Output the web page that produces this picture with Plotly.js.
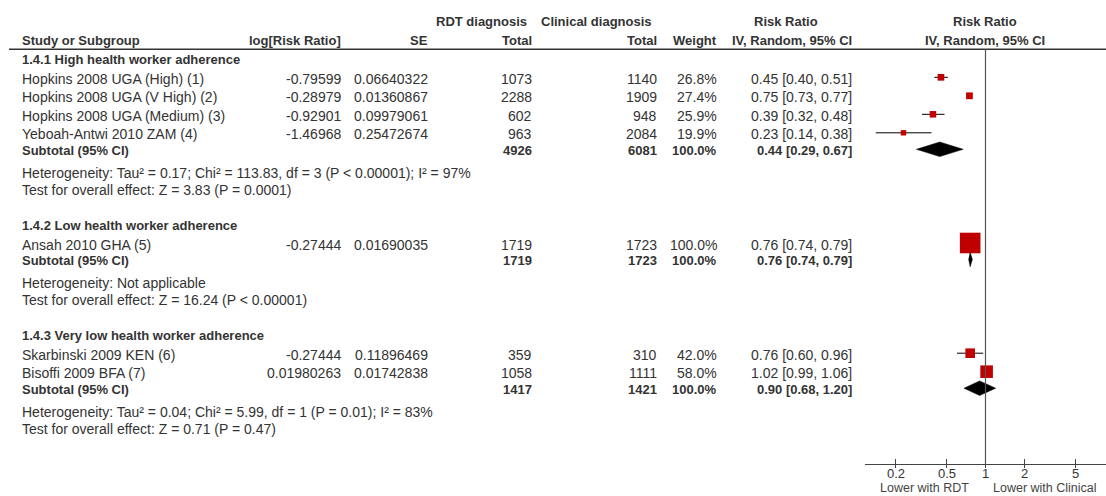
<!DOCTYPE html>
<html>
<head>
<meta charset="utf-8">
<script src="https://cdn.plot.ly/plotly-3.0.1.min.js"></script>
<style>
  html, body { margin: 0; padding: 0; background: #fff; }
  #forest { width: 1106px; height: 496px; }
</style>
</head>
<body>
<div id="forest"></div>
<script>
// ---- Study-level data ----
const groupTitles = [
  '1.4.1 High health worker adherence',
  '1.4.2 Low health worker adherence',
  '1.4.3 Very low health worker adherence'
];
const studyNames = [
  'Hopkins 2008 UGA (High) (1)',
  'Hopkins 2008 UGA (V High) (2)',
  'Hopkins 2008 UGA (Medium) (3)',
  'Yeboah-Antwi 2010 ZAM (4)',
  'Ansah 2010 GHA (5)',
  'Skarbinski 2009 KEN (6)',
  'Bisoffi 2009 BFA (7)'
];
const studyGroup = [0, 0, 0, 0, 1, 2, 2];
const logRR = [-0.79599, -0.28979, -0.92901, -1.46968, -0.27444, -0.27444, 0.01980263];
const stdErr = [0.06640322, 0.01360867, 0.09979061, 0.25472674, 0.01690035, 0.11896469, 0.01742838];
const rdtTotal = [1073, 2288, 602, 963, 1719, 359, 1058];
const clinTotal = [1140, 1909, 948, 2084, 1723, 310, 1111];
const weightPct = [26.8, 27.4, 25.9, 19.9, 100.0, 42.0, 58.0];
const riskRatio = [0.45, 0.75, 0.39, 0.23, 0.76, 0.76, 1.02];
const ciLow = [0.40, 0.73, 0.32, 0.14, 0.74, 0.60, 0.99];
const ciHigh = [0.51, 0.77, 0.48, 0.38, 0.79, 0.96, 1.06];

// ---- Subgroup totals ----
const subRdtTotal = [4926, 1719, 1417];
const subClinTotal = [6081, 1723, 1421];
const subWeightPct = [100.0, 100.0, 100.0];
const subRR = [0.44, 0.76, 0.90];
const subLow = [0.29, 0.74, 0.68];
const subHigh = [0.67, 0.79, 1.20];
const heterogeneity = [
  'Heterogeneity: Tau\u00b2 = 0.17; Chi\u00b2 = 113.83, df = 3 (P < 0.00001); I\u00b2 = 97%',
  'Heterogeneity: Not applicable',
  'Heterogeneity: Tau\u00b2 = 0.04; Chi\u00b2 = 5.99, df = 1 (P = 0.01); I\u00b2 = 83%'
];
const overallEffect = [
  'Test for overall effect: Z = 3.83 (P = 0.0001)',
  'Test for overall effect: Z = 16.24 (P < 0.00001)',
  'Test for overall effect: Z = 0.71 (P = 0.47)'
];

// ---- Axis ----
const tickVals = [0.2, 0.5, 1, 2, 5];
const tickText = ['0.2', '0.5', '1', '2', '5'];
const favoursLeft = 'Lower with RDT';
const favoursRight = 'Lower with Clinical';

// ---- Layout constants (pixels) ----
const W = 1106, H = 496;
const AXIS_Y = 464;            // baseline of the plot axis
const PLOT_LEFT = 865;         // left end of the plot axis
const LOG_SPAN = 0.9377;       // decades either side of RR = 1
const FONT = 'Liberation Sans, Arial, sans-serif';
const INK = '#333333';
const BOX_RED = '#c00000';

const COL = { name: 20.7, logrr: 341.7, se: 429.3, rdt: 533.3, clin: 658.3, weight: 717.7, ci: 853.3, plot: 984.5 };
const GAP = { headToStudy: 19.5, study: 18.5, studyToSub: 16.5, subToHet: 21.8, hetToTest: 17, testToHead: 35.4 };
const MARK_SHIFT = -1.5;       // marks sit slightly above the text centre line
const DIAMOND_HALF = 7.3;
const TICK_LABEL_Y = 473.8;
const FAVOURS_Y = 487.8;

const px = v => v / W;
const py = v => (H - v) / H;
const esc = s => String(s).replace(/&/g, '&amp;').replace(/</g, '&lt;').replace(/>/g, '&gt;');
const fmtCI = (m, l, h) => m.toFixed(2) + ' [' + l.toFixed(2) + ', ' + h.toFixed(2) + ']';

const annotations = [];
function txt(x, y, text, anchor, opts) {
  opts = opts || {};
  const bold = !!opts.bold;
  annotations.push({
    xref: opts.xref || 'paper', yref: 'paper',
    x: opts.xref ? x : px(x), y: py(y),
    text: bold ? '<b>' + esc(text) + '</b>' : esc(text),
    showarrow: false, xanchor: anchor, yanchor: 'middle',
    borderpad: 0,
    font: { family: FONT, size: opts.size || (bold ? 13 : 14), color: opts.color || INK }
  });
}

// Column headers
const H1 = 22, H2 = 40.7, RULE_Y = 49.3;
txt(435, H1, 'RDT diagnosis', 'left', { bold: true });
txt(540, H1, 'Clinical diagnosis', 'left', { bold: true });
txt(753, H1, 'Risk Ratio', 'left', { bold: true });
txt(COL.plot, H1, 'Risk Ratio', 'center', { bold: true });
txt(COL.name, H2, 'Study or Subgroup', 'left', { bold: true });
txt(COL.logrr, H2, 'log[Risk Ratio]', 'right', { bold: true });
txt(COL.se, H2, 'SE', 'right', { bold: true });
txt(COL.rdt, H2, 'Total', 'right', { bold: true });
txt(COL.clin, H2, 'Total', 'right', { bold: true });
txt(COL.weight, H2, 'Weight', 'right', { bold: true });
txt(COL.ci, H2, 'IV, Random, 95% CI', 'right', { bold: true });
txt(COL.plot, H2, 'IV, Random, 95% CI', 'center', { bold: true });

// Walk down the rows, placing text and collecting mark positions
const studyY = new Array(studyNames.length);
const subY = [];
let y = 59.3;
for (let g = 0; g < groupTitles.length; g++) {
  txt(COL.name, y, groupTitles[g], 'left', { bold: true });
  let first = true;
  for (let i = 0; i < studyNames.length; i++) {
    if (studyGroup[i] !== g) continue;
    y += first ? GAP.headToStudy : GAP.study;
    first = false;
    studyY[i] = y;
    txt(COL.name, y, studyNames[i], 'left');
    txt(COL.logrr, y, String(logRR[i]), 'right');
    txt(COL.se, y, String(stdErr[i]), 'right');
    txt(COL.rdt, y, String(rdtTotal[i]), 'right');
    txt(COL.clin, y, String(clinTotal[i]), 'right');
    txt(COL.weight, y, weightPct[i].toFixed(1) + '%', 'right');
    txt(COL.ci, y, fmtCI(riskRatio[i], ciLow[i], ciHigh[i]), 'right');
  }
  y += GAP.studyToSub;
  subY[g] = y;
  txt(COL.name, y, 'Subtotal (95% CI)', 'left', { bold: true });
  txt(COL.rdt, y, String(subRdtTotal[g]), 'right', { bold: true });
  txt(COL.clin, y, String(subClinTotal[g]), 'right', { bold: true });
  txt(COL.weight, y, subWeightPct[g].toFixed(1) + '%', 'right', { bold: true });
  txt(COL.ci, y, fmtCI(subRR[g], subLow[g], subHigh[g]), 'right', { bold: true });
  y += GAP.subToHet;
  txt(COL.name, y, heterogeneity[g], 'left');
  y += GAP.hetToTest;
  txt(COL.name, y, overallEffect[g], 'left');
  y += GAP.testToHead;
}

// Tick labels of the risk-ratio axis (annotation x on a log axis is log10 of the value)
tickVals.forEach((v, i) => {
  txt(Math.log10(v), TICK_LABEL_Y, tickText[i], 'center', { xref: 'x', size: 13, color: INK });
});

// Favours labels under the axis
txt(970, FAVOURS_Y, favoursLeft, 'right', { size: 12.5, color: '#444' });
txt(992.3, FAVOURS_Y, favoursRight, 'left', { size: 12.5, color: '#444' });

// ---- Traces ----
const traces = [];

// Confidence-interval whiskers
const ciX = [], ciY = [];
for (let i = 0; i < studyNames.length; i++) {
  ciX.push(ciLow[i], ciHigh[i], null);
  ciY.push(studyY[i] + MARK_SHIFT, studyY[i] + MARK_SHIFT, null);
}
traces.push({
  type: 'scatter', mode: 'lines', x: ciX, y: ciY,
  line: { color: '#000', width: 1 }, hoverinfo: 'skip', cliponaxis: false
});

// Weighted boxes
traces.push({
  type: 'scatter', mode: 'markers',
  x: riskRatio, y: studyY.map(v => v + MARK_SHIFT),
  marker: {
    symbol: 'square', color: BOX_RED, opacity: 1,
    size: weightPct.map(w => 1.6 + 0.19 * w), line: { width: 0 }
  },
  hoverinfo: 'x', cliponaxis: false
});

// Pooled diamonds, one per subgroup
for (let g = 0; g < subRR.length; g++) {
  const yc = subY[g] + MARK_SHIFT;
  traces.push({
    type: 'scatter', mode: 'lines', fill: 'toself', fillcolor: '#000',
    x: [subLow[g], subRR[g], subHigh[g], subRR[g], subLow[g]],
    y: [yc, yc - DIAMOND_HALF, yc, yc + DIAMOND_HALF, yc],
    line: { color: '#000', width: 0.5 }, hoverinfo: 'skip', cliponaxis: false
  });
}

// invisible point so the overlay axis draws its upper tick marks
traces.push({ type: 'scatter', x: [1], y: [AXIS_Y], xaxis: 'x2', yaxis: 'y', mode: 'markers',
  marker: { opacity: 0 }, hoverinfo: 'skip' });

const layout = {
  width: W, height: H,
  margin: { l: 0, r: 0, t: 0, b: 0, pad: 0 },
  paper_bgcolor: '#fff', plot_bgcolor: 'rgba(0,0,0,0)',
  showlegend: false,
  xaxis: {
    type: 'log', range: [-LOG_SPAN, LOG_SPAN], domain: [px(PLOT_LEFT), 1],
    showline: true, linecolor: '#444', linewidth: 1,
    ticks: 'outside', ticklen: 3, tickcolor: '#444', tickwidth: 1,
    tickmode: 'array', tickvals: tickVals, showticklabels: false,
    showgrid: false, zeroline: false, fixedrange: true, anchor: 'y'
  },
  xaxis2: {
    type: 'log', range: [-LOG_SPAN, LOG_SPAN], domain: [px(PLOT_LEFT), 1],
    overlaying: 'x', anchor: 'y', side: 'bottom',
    showline: false, ticks: 'inside', ticklen: 5, tickcolor: '#444', tickwidth: 1,
    tickmode: 'array', tickvals: tickVals, showticklabels: false,
    showgrid: false, zeroline: false, fixedrange: true
  },
  yaxis: {
    range: [AXIS_Y, 0], domain: [(H - AXIS_Y) / H, 1],
    visible: false, fixedrange: true
  },
  shapes: [
    // rule under the column headers
    { type: 'line', xref: 'paper', yref: 'y', x0: px(9), x1: 1, y0: RULE_Y, y1: RULE_Y,
      line: { color: '#333', width: 1.5 } },
    // line of no effect
    { type: 'line', xref: 'x', yref: 'y', x0: 1, x1: 1, y0: RULE_Y, y1: AXIS_Y,
      line: { color: '#555', width: 1.2 } }
  ],
  annotations: annotations
};

Plotly.newPlot('forest', traces, layout, { staticPlot: true, displayModeBar: false });
</script>
</body>
</html>
